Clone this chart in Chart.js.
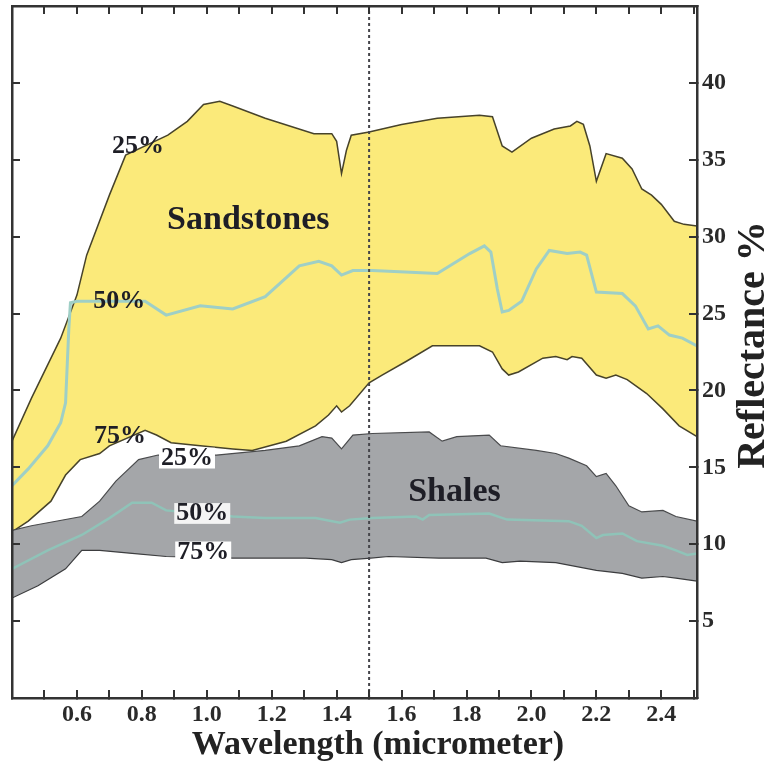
<!DOCTYPE html>
<html>
<head>
<meta charset="utf-8">
<title>Reflectance of sandstones and shales</title>
<script src="https://cdn.jsdelivr.net/npm/chart.js@4.4.1/dist/chart.umd.min.js"></script>
<style>
  html, body { margin: 0; padding: 0; background: #fff; }
  #wrap { width: 770px; height: 768px; }
</style>
</head>
<body>
<div id="wrap"><canvas id="reflChart"></canvas></div>
<script>
// Percentile curves: wavelength (micrometer) / reflectance (%)

// Sandstones, 25% curve (upper edge of the yellow band)
const sandTopWl  = [0.40, 0.46, 0.55, 0.60, 0.63, 0.70, 0.75, 0.88, 0.94, 0.99, 1.04, 1.08, 1.18, 1.33, 1.385, 1.40, 1.415, 1.43, 1.445, 1.50, 1.60, 1.71, 1.84, 1.88, 1.91, 1.94, 2.00, 2.07, 2.12, 2.14, 2.16, 2.18, 2.20, 2.23, 2.28, 2.31, 2.34, 2.37, 2.40, 2.44, 2.47, 2.51];
const sandTopRef = [16.7, 19.5, 23.4, 26.2, 28.8, 32.7, 35.3, 36.6, 37.5, 38.6, 38.8, 38.5, 37.7, 36.7, 36.7, 36.2, 34.1, 35.6, 36.6, 36.8, 37.3, 37.7, 37.9, 37.8, 35.9, 35.5, 36.4, 37.0, 37.2, 37.5, 37.3, 35.9, 33.6, 35.4, 35.1, 34.4, 33.1, 32.7, 32.1, 31.0, 30.8, 30.7];

// Sandstones, 50% curve
const sandMidWl  = [0.40, 0.45, 0.51, 0.55, 0.565, 0.575, 0.58, 0.60, 0.81, 0.875, 0.98, 1.08, 1.18, 1.285, 1.345, 1.385, 1.415, 1.45, 1.51, 1.71, 1.81, 1.855, 1.875, 1.895, 1.91, 1.93, 1.97, 2.015, 2.055, 2.11, 2.15, 2.17, 2.20, 2.28, 2.32, 2.36, 2.39, 2.425, 2.465, 2.51];
const sandMidRef = [13.8, 14.9, 16.4, 17.9, 19.2, 24.0, 25.7, 25.8, 25.8, 24.9, 25.5, 25.3, 26.1, 28.1, 28.4, 28.1, 27.5, 27.8, 27.8, 27.6, 28.9, 29.4, 29.0, 26.6, 25.1, 25.2, 25.8, 27.9, 29.1, 28.9, 29.0, 28.8, 26.4, 26.3, 25.5, 24.0, 24.2, 23.6, 23.4, 22.9];

// Sandstones, 75% curve (lower edge of the yellow band)
const sandLowWl  = [0.40, 0.45, 0.52, 0.565, 0.61, 0.67, 0.70, 0.81, 0.845, 0.89, 0.98, 1.08, 1.14, 1.245, 1.335, 1.375, 1.40, 1.415, 1.44, 1.50, 1.54, 1.615, 1.695, 1.77, 1.84, 1.88, 1.91, 1.93, 1.96, 2.035, 2.075, 2.11, 2.125, 2.155, 2.20, 2.23, 2.26, 2.295, 2.355, 2.405, 2.455, 2.51];
const sandLowRef = [10.8, 11.5, 12.8, 14.5, 15.5, 15.9, 16.4, 17.4, 17.1, 16.6, 16.4, 16.2, 16.1, 16.7, 17.7, 18.4, 19.0, 18.6, 19.0, 20.5, 21.0, 21.9, 22.9, 22.9, 22.9, 22.5, 21.4, 21.0, 21.2, 22.1, 22.2, 22.0, 22.2, 22.1, 21.0, 20.8, 21.0, 20.7, 19.8, 18.8, 17.7, 17.0];

// Shales, 25% curve (upper edge of the grey band)
const shaleTopWl  = [0.40, 0.46, 0.615, 0.67, 0.72, 0.79, 0.85, 1.03, 1.18, 1.285, 1.355, 1.385, 1.415, 1.45, 1.51, 1.685, 1.725, 1.77, 1.87, 1.905, 2.015, 2.075, 2.115, 2.17, 2.20, 2.23, 2.26, 2.30, 2.34, 2.405, 2.445, 2.51];
const shaleTopRef = [10.9, 11.2, 11.8, 12.8, 14.1, 15.5, 15.8, 15.8, 16.1, 16.4, 17.0, 16.9, 16.2, 17.1, 17.2, 17.3, 16.7, 17.0, 17.1, 16.4, 16.1, 15.9, 15.6, 15.1, 14.4, 14.6, 13.8, 12.5, 12.1, 12.2, 11.8, 11.5];

// Shales, 50% curve
const shaleMidWl  = [0.40, 0.51, 0.615, 0.70, 0.77, 0.83, 0.875, 1.08, 1.18, 1.335, 1.41, 1.44, 1.51, 1.645, 1.665, 1.685, 1.87, 1.925, 2.115, 2.155, 2.20, 2.22, 2.28, 2.325, 2.405, 2.445, 2.48, 2.51];
const shaleMidRef = [8.4, 9.6, 10.6, 11.7, 12.7, 12.7, 12.2, 11.8, 11.7, 11.7, 11.4, 11.6, 11.7, 11.8, 11.6, 11.9, 12.0, 11.6, 11.5, 11.2, 10.4, 10.6, 10.7, 10.2, 9.9, 9.6, 9.3, 9.4];

// Shales, 75% curve (lower edge of the grey band)
const shaleLowWl  = [0.40, 0.48, 0.565, 0.615, 0.67, 0.77, 0.875, 1.08, 1.305, 1.385, 1.415, 1.445, 1.505, 1.56, 1.715, 1.86, 1.91, 1.965, 2.075, 2.20, 2.28, 2.34, 2.405, 2.445, 2.51];
const shaleLowRef = [6.5, 7.3, 8.4, 9.6, 9.6, 9.4, 9.2, 9.1, 9.1, 9.0, 8.8, 9.0, 9.1, 9.2, 9.1, 9.1, 8.8, 8.9, 8.8, 8.3, 8.1, 7.8, 7.9, 7.8, 7.6];

// dashed marker at 1.5 micrometer
const markerWl  = [1.5, 1.5];
const markerRef = [0, 45];

// tick labels shown on the axes
const xTickLabels = ['0.6', '0.8', '1.0', '1.2', '1.4', '1.6', '1.8', '2.0', '2.2', '2.4'];
const yTickLabels = ['5', '10', '15', '20', '25', '30', '35', '40'];

// text written inside the plot (data coordinates)
const notes = [
  { text: '25%', x: 0.788, y: 35.9, size: 26 },
  { text: '50%', x: 0.730, y: 25.8, size: 26 },
  { text: '75%', x: 0.733, y: 17.0, size: 26 },
  { text: '25%', x: 0.939, y: 15.6, size: 26, box: '#ffffff' },
  { text: '50%', x: 0.986, y: 12.0, size: 26, box: '#f4f4f4' },
  { text: '75%', x: 0.989, y: 9.5, size: 26, box: '#ffffff' },
  { text: 'Sandstones', x: 1.128, y: 31.1, size: 34 },
  { text: 'Shales', x: 1.763, y: 13.4, size: 34 }
];

const SERIF = '"Liberation Serif", "Times New Roman", serif';
const AXIS_COLOR = '#333333';

function toPoints(xs, ys) {
  return xs.map((x, i) => ({ x: x, y: ys[i] }));
}

// fixed box size, no extra label padding pushed into the layout
function fixSize(w, h) {
  return s => {
    if (w !== null) s.width = w;
    if (h !== null) s.height = h;
    s.paddingTop = 0; s.paddingBottom = 0;
    s.paddingLeft = 0; s.paddingRight = 0;
  };
}

// inward tick marks on all four sides
function frameAxis(position, extra) {
  return Object.assign({
    type: 'linear',
    position: position,
    grid: { drawOnChartArea: false, tickLength: -8, lineWidth: 2, color: AXIS_COLOR, z: 1 },
    border: { display: true, color: AXIS_COLOR, width: 2.5, z: 1 }
  }, extra);
}

const textPlugin = {
  id: 'bandText',
  afterDatasetsDraw(chart) {
    const { ctx } = chart;
    const xs = chart.scales.x, ys = chart.scales.y;
    ctx.save();
    ctx.textAlign = 'center';
    ctx.textBaseline = 'middle';
    notes.forEach(n => {
      const px = xs.getPixelForValue(n.x);
      const py = ys.getPixelForValue(n.y);
      ctx.font = 'bold ' + n.size + 'px ' + SERIF;
      if (n.box) {
        const w = ctx.measureText(n.text).width;
        ctx.fillStyle = n.box;
        ctx.fillRect(px - w / 2 - 2, py - n.size * 0.4, w + 4, n.size * 0.8);
      }
      ctx.fillStyle = '#1e1e26';
      ctx.fillText(n.text, px, py);
    });
    ctx.restore();
  },
  afterDraw(chart) {
    const { ctx, chartArea } = chart;
    ctx.save();
    ctx.fillStyle = '#222222';
    ctx.textAlign = 'center';
    ctx.textBaseline = 'middle';
    // x title
    ctx.font = 'bold 34px ' + SERIF;
    ctx.fillText('Wavelength (micrometer)', 378, 745);
    // y title, reading bottom to top on the right
    ctx.translate(754, (chartArea.top + chartArea.bottom) / 2 - 7);
    ctx.rotate(-Math.PI / 2);
    ctx.font = 'bold 40px ' + SERIF;
    ctx.fillText('Reflectance %', 0, 0);
    ctx.restore();
  }
};

const lineBase = { pointRadius: 0, tension: 0, fill: false };

new Chart(document.getElementById('reflChart'), {
  type: 'line',
  data: {
    datasets: [
      Object.assign({}, lineBase, {
        label: 'Sandstones 25%', data: toPoints(sandTopWl, sandTopRef),
        borderColor: '#47432a', borderWidth: 1.5, backgroundColor: '#fbea7a', fill: '+1', order: 6
      }),
      Object.assign({}, lineBase, {
        label: 'Sandstones 75%', data: toPoints(sandLowWl, sandLowRef),
        borderColor: '#47432a', borderWidth: 1.5, order: 5
      }),
      Object.assign({}, lineBase, {
        label: 'Sandstones 50%', data: toPoints(sandMidWl, sandMidRef),
        borderColor: '#9fcfc6', borderWidth: 3, order: 4
      }),
      Object.assign({}, lineBase, {
        label: 'Shales 25%', data: toPoints(shaleTopWl, shaleTopRef),
        borderColor: '#4a4b4d', borderWidth: 1.2, backgroundColor: '#a4a6a9', fill: '+1', order: 3
      }),
      Object.assign({}, lineBase, {
        label: 'Shales 75%', data: toPoints(shaleLowWl, shaleLowRef),
        borderColor: '#3c3d3f', borderWidth: 1.2, order: 2
      }),
      Object.assign({}, lineBase, {
        label: 'Shales 50%', data: toPoints(shaleMidWl, shaleMidRef),
        borderColor: '#8fc3b8', borderWidth: 2.5, order: 1
      }),
      Object.assign({}, lineBase, {
        label: '1.5 um', data: toPoints(markerWl, markerRef),
        borderColor: '#45454a', borderWidth: 2, borderDash: [3, 3], order: 0
      })
    ]
  },
  options: {
    responsive: true,
    maintainAspectRatio: false,
    animation: false,
    layout: { padding: { left: 12, top: 6, right: 0, bottom: 0 } },
    plugins: { legend: { display: false }, tooltip: { enabled: false } },
    scales: {
      x: frameAxis('bottom', {
        min: 0.4, max: 2.51,
        afterFit: fixSize(null, 70),
        ticks: {
          stepSize: 0.1, includeBounds: false, maxRotation: 0, autoSkip: false, padding: 10,
          color: '#2a2a2a', font: { family: SERIF, weight: 'bold', size: 24 },
          callback: v => { const s = Number(v).toFixed(1); return xTickLabels.includes(s) ? s : ''; }
        }
      }),
      y: frameAxis('right', {
        min: 0, max: 45,
        afterFit: fixSize(73, null),
        ticks: {
          stepSize: 5, padding: 13,
          color: '#2a2a2a', font: { family: SERIF, weight: 'bold', size: 24 },
          callback: v => (yTickLabels.includes(String(v)) ? String(v) : '')
        }
      }),
      xTop: frameAxis('top', {
        min: 0.4, max: 2.51,
        afterFit: fixSize(null, 0),
        ticks: { display: false, stepSize: 0.1, includeBounds: false }
      }),
      yLeft: frameAxis('left', {
        min: 0, max: 45,
        afterFit: fixSize(0, null),
        ticks: { display: false, stepSize: 5 }
      })
    }
  },
  plugins: [textPlugin]
});
</script>
</body>
</html>
